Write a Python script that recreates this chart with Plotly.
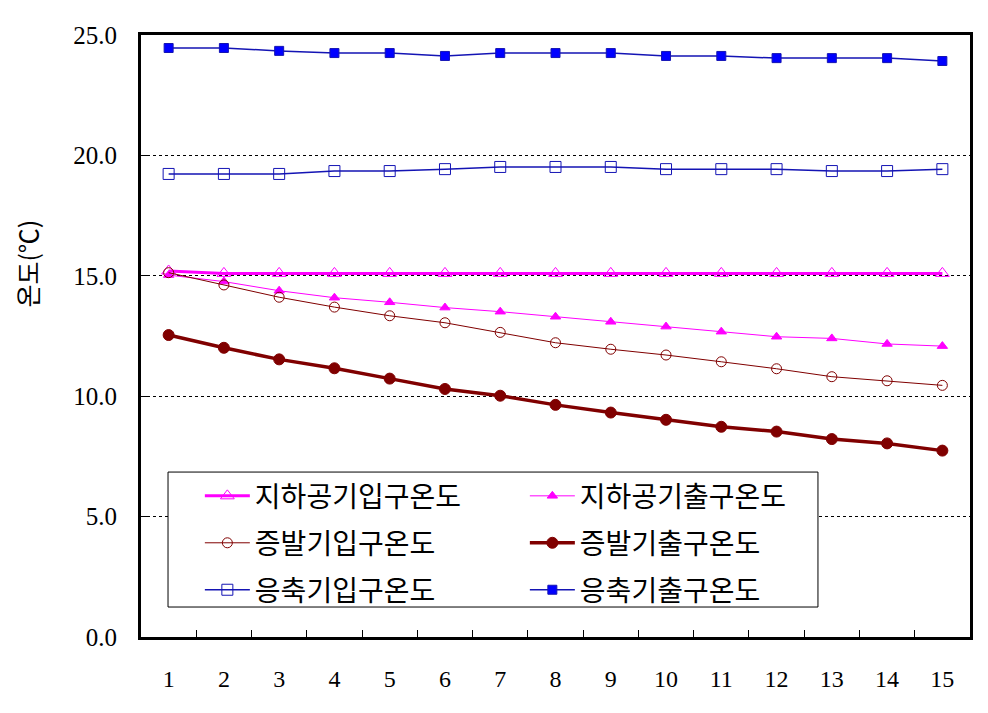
import plotly.graph_objects as go

# x categories (run number)
runs = [str(i) for i in range(1, 16)]

# temperatures (deg C)
ground_air_in = [15.2, 15.1, 15.1, 15.1, 15.1, 15.1, 15.1, 15.1, 15.1, 15.1, 15.1, 15.1, 15.1, 15.1, 15.1]
ground_air_out = [15.03, 14.76, 14.38, 14.09, 13.90, 13.68, 13.51, 13.30, 13.09, 12.89, 12.68, 12.47, 12.40, 12.17, 12.08]
evap_in = [15.13, 14.62, 14.11, 13.70, 13.34, 13.05, 12.65, 12.22, 11.95, 11.71, 11.43, 11.14, 10.81, 10.64, 10.45]
evap_out = [12.54, 12.01, 11.53, 11.16, 10.73, 10.30, 10.02, 9.64, 9.32, 9.02, 8.73, 8.53, 8.22, 8.04, 7.74]
cond_in = [19.23, 19.23, 19.23, 19.35, 19.35, 19.43, 19.52, 19.52, 19.52, 19.43, 19.43, 19.43, 19.35, 19.35, 19.43]
cond_out = [24.46, 24.46, 24.34, 24.25, 24.25, 24.13, 24.25, 24.25, 24.25, 24.13, 24.13, 24.04, 24.04, 24.04, 23.92]

series_names = ['지하공기입구온도', '지하공기출구온도', '증발기입구온도',
                '증발기출구온도', '응축기입구온도', '응축기출구온도']

MAGENTA = '#FF00FF'
BROWN = '#800000'
BLUE_LINE = '#1414B4'
BLUE = '#0000FF'

KR_FONT = 'Noto Sans CJK KR'
SERIF = 'Liberation Serif'


def create_line(name, values, color, width, symbol, size, legend, fill=None):
    """Line + marker trace in the old Excel style."""
    return go.Scatter(
        name=name,
        x=runs,
        y=values,
        mode='lines+markers',
        legend=legend,
        line=dict(color=color, width=width),
        marker=dict(symbol=symbol, size=size, color=fill or color,
                    line=dict(color=color, width=1)),
    )


def legend_row(y):
    """One horizontal legend row (two entries) inside the shared frame."""
    return dict(
        orientation='h',
        x=0.071, xanchor='left',
        y=y, yanchor='middle',
        entrywidth=265,
        itemwidth=45,
        bgcolor='rgba(0,0,0,0)',
        borderwidth=0,
        font=dict(family=KR_FONT, size=28, color='black'),
    )


fig = go.Figure()
fig.add_trace(create_line(series_names[0], ground_air_in, MAGENTA, 3, 'triangle-up-open', 12, 'legend'))
fig.add_trace(create_line(series_names[1], ground_air_out, MAGENTA, 1, 'triangle-up', 9, 'legend'))
fig.add_trace(create_line(series_names[2], evap_in, BROWN, 1, 'circle-open', 10, 'legend2'))
fig.add_trace(create_line(series_names[3], evap_out, BROWN, 3.5, 'circle', 11, 'legend2'))
fig.add_trace(create_line(series_names[4], cond_in, BLUE_LINE, 1.5, 'square-open', 11, 'legend3'))
fig.add_trace(create_line(series_names[5], cond_out, BLUE_LINE, 1.5, 'square', 9, 'legend3', fill=BLUE))

# page body adds an 8px offset, so the figure is 8px smaller than the window
fig.update_layout(
    width=980,
    height=705,
    margin=dict(l=133, r=18, t=27, b=76),
    paper_bgcolor='white',
    plot_bgcolor='white',
    font=dict(family=SERIF, size=24, color='black'),
    showlegend=True,
    legend=legend_row(0.234),
    legend2=legend_row(0.156),
    legend3=legend_row(0.078),
    shapes=[dict(
        type='rect', xref='paper', yref='paper',
        x0=0.0326, x1=0.8166, y0=0.0498, y1=0.274,
        fillcolor='white', line=dict(color='black', width=1),
        layer='above',
    )],
    annotations=[dict(
        text='온도(℃)',
        xref='paper', yref='paper',
        x=-0.137, y=0.621,
        xanchor='center', yanchor='middle',
        showarrow=False,
        textangle=-90,
        font=dict(family=KR_FONT, size=25, color='black'),
    )],
)

fig.update_xaxes(
    type='category',
    range=[-0.5, 14.5],
    tickson='boundaries',
    ticks='inside',
    ticklen=7,
    tickcolor='black',
    showgrid=False,
    showline=True,
    linecolor='black',
    linewidth=3,
    mirror=True,
    automargin=False,
    tickfont=dict(family=SERIF, size=24),
    ticklabelstandoff=18,
)

fig.update_yaxes(
    range=[0, 25],
    dtick=5,
    tickformat='.1f',
    ticks='inside',
    ticklen=6,
    tickcolor='black',
    showgrid=True,
    gridcolor='black',
    gridwidth=1,
    griddash='3px,3px',
    zeroline=False,
    showline=True,
    linecolor='black',
    linewidth=3,
    mirror=True,
    automargin=False,
    tickfont=dict(family=SERIF, size=25),
    ticklabelstandoff=16,
)

fig.write_html("out.html")
